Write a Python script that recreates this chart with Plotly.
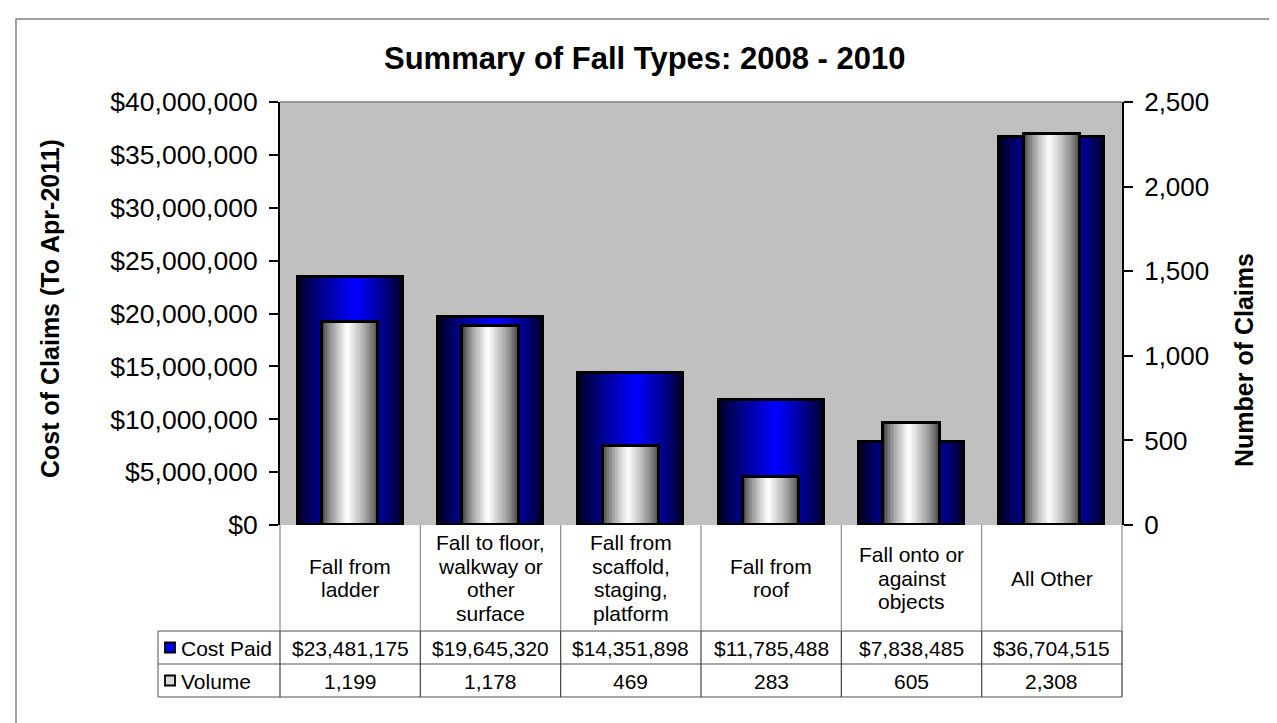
import plotly.graph_objects as go

# ---------------- data ----------------
categories = [
    "Fall from ladder",
    "Fall to floor, walkway or other surface",
    "Fall from scaffold, staging, platform",
    "Fall from roof",
    "Fall onto or against objects",
    "All Other",
]
category_lines = [
    ["Fall from", "ladder"],
    ["Fall to floor,", "walkway or", "other", "surface"],
    ["Fall from", "scaffold,", "staging,", "platform"],
    ["Fall from", "roof"],
    ["Fall onto or", "against", "objects"],
    ["All Other"],
]
cost_paid = [23481175, 19645320, 14351898, 11785488, 7838485, 36704515]
volume = [1199, 1178, 469, 283, 605, 2308]
series_names = ["Cost Paid", "Volume"]
cost_ticks = [0, 5000000, 10000000, 15000000, 20000000, 25000000, 30000000, 35000000, 40000000]
volume_ticks = [0, 500, 1000, 1500, 2000, 2500]
title_text = "Summary of Fall Types: 2008 - 2010"
left_title = "Cost of Claims (To Apr-2011)"
right_title = "Number of Claims"

# ---------------- layout geometry (px) ----------------
W, H = 1277, 723
L, R, T, B = 272, 1114, 94, 517
FONT = "Liberation Sans, Arial, sans-serif"


def px_x(px):
    return (px - L) / (R - L)


def px_y(py):
    return (B - py) / (B - T)


def blue_color(t):
    peak = 0.55
    d = (peak - t) / peak if t < peak else (t - peak) / (1 - peak)
    v = 20 + 235 * (1 - d) ** 0.75
    return f"rgb(0,0,{int(v)})"


def white_color(t):
    peak = 0.45
    d = (peak - t) / peak if t < peak else (t - peak) / (1 - peak)
    v = 55 + 200 * (1 - d) ** 0.7
    v = int(min(255, v))
    return f"rgb({v},{v},{v})"


fig = go.Figure()

N = 36
BLUE_W = 0.75
WHITE_W = 0.40


def add_gradient_bars(values, total_w, colfn, yaxis):
    step = total_w / N
    for i in range(N):
        t = (i + 0.5) / N
        w = step * 1.4 if i < N - 1 else step
        fig.add_trace(go.Bar(
            x=categories, y=values, yaxis=yaxis,
            width=w, offset=-total_w / 2 + i * step,
            marker=dict(color=colfn(t), line=dict(width=0)),
            showlegend=False, hoverinfo="skip",
        ))
    fig.add_trace(go.Bar(
        x=categories, y=values, yaxis=yaxis,
        width=total_w, offset=-total_w / 2,
        marker=dict(color="rgba(0,0,0,0)", line=dict(color="black", width=3)),
        showlegend=False, hoverinfo="skip",
    ))


add_gradient_bars(cost_paid, BLUE_W, blue_color, "y")
add_gradient_bars(volume, WHITE_W, white_color, "y2")

shapes = []
annotations = []

# plot area top border
shapes.append(dict(type="line", xref="paper", yref="paper", x0=0, x1=1, y0=1, y1=1,
                   line=dict(color="#808080", width=1.5)))
# outer chart border
shapes.append(dict(type="rect", xref="paper", yref="paper",
                   x0=px_x(8), x1=px_x(1281), y0=px_y(11), y1=px_y(740),
                   line=dict(color="#808080", width=1.5), fillcolor="rgba(0,0,0,0)", layer="below"))

# ---------- data table ----------
row_top = [517, 623, 656]
row_bot = [623, 656, 689]
LEG_L = 150
ncat = len(categories)
grid_gray = "#8a8a8a"
for py in (623, 656, 689):
    shapes.append(dict(type="line", xref="paper", yref="paper", x0=px_x(LEG_L), x1=1,
                       y0=px_y(py), y1=px_y(py), line=dict(color=grid_gray, width=1.5)))
for i in range(ncat + 1):
    shapes.append(dict(type="line", xref="paper", yref="paper", x0=i / ncat, x1=i / ncat,
                       y0=px_y(517), y1=px_y(623), line=dict(color=grid_gray, width=1.2)))
for i in range(ncat + 1):
    shapes.append(dict(type="line", xref="paper", yref="paper", x0=i / ncat, x1=i / ncat,
                       y0=px_y(623), y1=px_y(689), line=dict(color="#404040", width=1.2)))
shapes.append(dict(type="line", xref="paper", yref="paper", x0=px_x(LEG_L), x1=px_x(LEG_L),
                   y0=px_y(623), y1=px_y(689), line=dict(color=grid_gray, width=1.5)))

# category labels
LINE_SP = 23.5
for i, lines in enumerate(category_lines):
    n = len(lines)
    for k, txt in enumerate(lines):
        py = 570 + (k - (n - 1) / 2) * LINE_SP
        annotations.append(dict(xref="paper", yref="paper", x=(i + 0.5) / ncat, y=px_y(py),
                                text=txt, showarrow=False, xanchor="center", yanchor="middle",
                                font=dict(family=FONT, size=21, color="black")))

# value rows
row_values = [[f"${v:,}" for v in cost_paid], [f"{v:,}" for v in volume]]
for r, vals in enumerate(row_values):
    cy = (row_top[r + 1] + row_bot[r + 1]) / 2
    for i, txt in enumerate(vals):
        annotations.append(dict(xref="paper", yref="paper", x=(i + 0.5) / ncat, y=px_y(cy + 1),
                                text=txt, showarrow=False, xanchor="center", yanchor="middle",
                                font=dict(family=FONT, size=21, color="black")))
    annotations.append(dict(xref="paper", yref="paper", x=px_x(171), y=px_y(cy + 1),
                            text=series_names[r], showarrow=False, xanchor="left", yanchor="middle",
                            font=dict(family=FONT, size=21, color="black")))
    key_fill = "#0000FF" if r == 0 else "#d9d9d9"
    shapes.append(dict(type="rect", xref="paper", yref="paper",
                       x0=px_x(157), x1=px_x(167), y0=px_y(cy - 5), y1=px_y(cy + 5),
                       fillcolor=key_fill, line=dict(color="black", width=1.8)))

# titles
annotations.append(dict(xref="paper", yref="paper", x=px_x(637), y=px_y(50),
                        text=f"<b>{title_text}</b>", showarrow=False,
                        xanchor="center", yanchor="middle",
                        font=dict(family=FONT, size=31, color="black")))
annotations.append(dict(xref="paper", yref="paper", x=px_x(42), y=px_y(300),
                        text=f"<b>{left_title}</b>", showarrow=False, textangle=-90,
                        xanchor="center", yanchor="middle",
                        font=dict(family=FONT, size=25, color="black")))
annotations.append(dict(xref="paper", yref="paper", x=px_x(1236), y=px_y(352),
                        text=f"<b>{right_title}</b>", showarrow=False, textangle=-90,
                        xanchor="center", yanchor="middle",
                        font=dict(family=FONT, size=25, color="black")))

fig.update_layout(
    width=W, height=H,
    margin=dict(l=L, r=W - R, t=T, b=H - B, pad=0),
    paper_bgcolor="white", plot_bgcolor="#C0C0C0",
    barmode="overlay", bargap=0, showlegend=False, hovermode=False,
    font=dict(family=FONT, color="black"),
    xaxis=dict(type="category", showticklabels=False, ticks="", showgrid=False,
               zeroline=False, showline=False, range=[-0.5, ncat - 0.5], fixedrange=True),
    yaxis=dict(range=[0, 40000000], tickvals=cost_ticks,
               ticktext=[f"${v:,}" for v in cost_ticks],
               showgrid=False, zeroline=False, showline=True, linecolor="black", linewidth=2,
               ticks="outside", ticklen=9, tickwidth=1.5, tickcolor="black",
               tickfont=dict(family=FONT, size=26.5, color="black"), ticklabelstandoff=6),
    yaxis2=dict(range=[0, 2500], tickvals=volume_ticks,
                ticktext=[f"{v:,}" for v in volume_ticks],
                overlaying="y", side="right",
                showgrid=False, zeroline=False, showline=True, linecolor="black", linewidth=2,
                ticks="outside", ticklen=9, tickwidth=1.5, tickcolor="black",
                tickfont=dict(family=FONT, size=26, color="black"), ticklabelstandoff=6),
    shapes=shapes, annotations=annotations,
)

fig.write_html("out.html")
